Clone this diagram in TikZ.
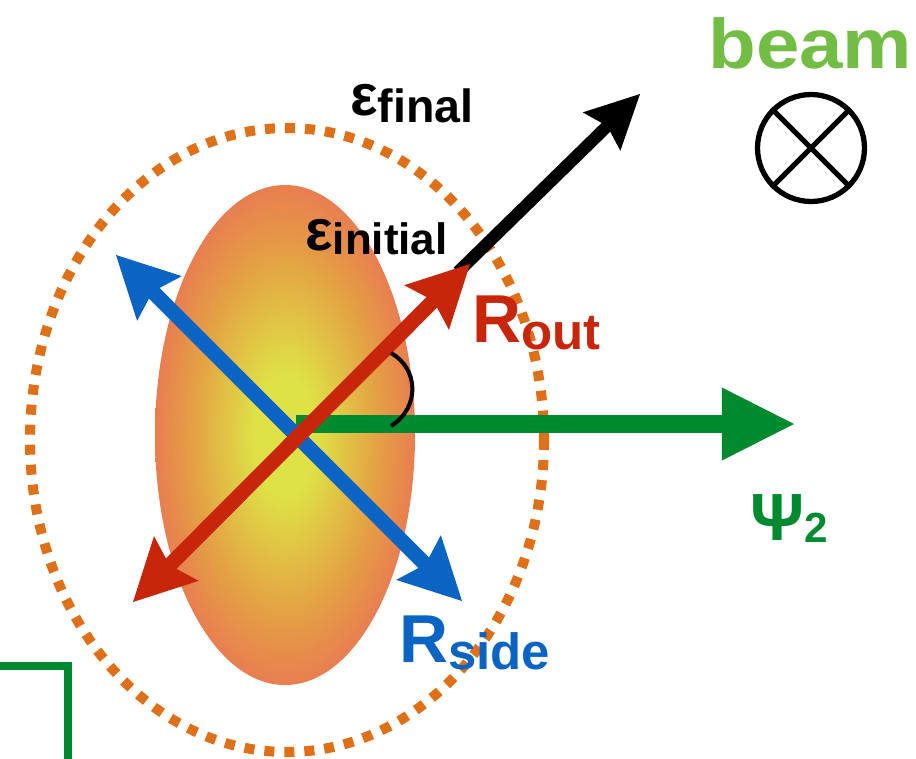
\documentclass[tikz,border=0pt]{standalone}
\usepackage{fontspec}
\setmainfont{Liberation Sans}
\usetikzlibrary{arrows.meta}
\definecolor{sideblue}{RGB}{10,100,195}
\definecolor{outred}{RGB}{200,38,10}
\definecolor{psigreen}{RGB}{0,138,48}
\definecolor{beamgreen}{RGB}{114,190,68}
\definecolor{dotorange}{RGB}{224,112,24}
\definecolor{eggin}{RGB}{222,226,70}
\definecolor{eggmid}{RGB}{228,160,68}
\definecolor{eggout}{RGB}{232,126,80}
\pgfdeclareradialshading{eggshade}{\pgfpoint{0bp}{0bp}}{color(0bp)=(eggin); color(6bp)=(eggin); color(18bp)=(eggmid); color(25bp)=(eggout); color(50bp)=(eggout)}
\begin{document}
\begin{tikzpicture}[x=0.02cm, y=-0.02cm, font=\bfseries,
    lbl/.style={anchor=base west, inner sep=0pt},
    dots/.style={dotorange, line width=5.7pt, dash pattern=on 5.7pt off 5.7pt},
    dbl/.style={line width=8.5pt, {Stealth[length=35pt, width=36pt, inset=5.5pt, line width=0pt]}-{Stealth[length=35pt, width=36pt, inset=5.5pt, line width=0pt]}},
    emit/.style={line width=7pt, -{Stealth[length=30.6pt, width=30.6pt, inset=4.5pt, line width=0pt]}},
    plane/.style={psigreen, line width=10.2pt, -{Triangle[length=41pt, width=41.5pt, line width=0pt]}}]
  \useasboundingbox (0,0) rectangle (916,758);
  % geometry
  \coordinate (ctr) at (297,433);
  \coordinate (egg) at (285,435);
  \coordinate (sidetop) at (116,255);
  \coordinate (sidebot) at (462,601);
  \coordinate (outbot) at (133,602);
  \coordinate (outtop) at (470,264);
  \coordinate (emitfrom) at (458,272);
  \coordinate (emitto) at (640,94);
  \coordinate (psifrom) at (296,424);
  \coordinate (psito) at (794,424);
  % source, initial and final shape
  \draw[dots] (287,440) ellipse (257 and 312);
  \shade[shading=eggshade] (egg) ellipse (130 and 250);
  % axes
  \draw[emit] (emitfrom) -- (emitto);
  \draw[plane] (psifrom) -- (psito);
  \draw[dbl, sideblue] (sidetop) -- (sidebot);
  \draw[dbl, outred] (outbot) -- (outtop);
  \draw[line width=2.3pt] (391,353) .. controls (418,368) and (421,407) .. (391,426);
  % labels
  \node[lbl] (efinal) at (350,115) {\fontsize{33}{33}\selectfont ε\fontsize{26.5}{26.5}\selectfont\raisebox{-4pt}{final}};
  \node[lbl] (einit) at (305,250) {\fontsize{33}{33}\selectfont ε\fontsize{25}{25}\selectfont\raisebox{-2.8pt}{initial}};
  \node[lbl, text=outred] (rout) at (472,342) {\fontsize{38.6}{38.6}\selectfont R\fontsize{29}{29}\selectfont\raisebox{-4.5pt}{out}};
  \node[lbl, text=sideblue] (rside) at (399,662) {\fontsize{38.6}{38.6}\selectfont R\fontsize{29}{29}\selectfont\raisebox{-4.5pt}{side}};
  \node[lbl, text=psigreen] (psi) at (750,540) {\fontsize{38}{38}\selectfont Ψ\fontsize{24}{24}\selectfont\raisebox{-1.7pt}{2}};
  % beam direction
  \node[lbl, text=beamgreen] (beam) at (708,68) {\fontsize{40}{40}\selectfont\scalebox{1.11}[1]{beam}};
  \node[circle, draw, line width=3pt, minimum size=2.14cm, inner sep=0pt] (beamsym) at (811,148) {};
  \draw[line width=3pt] (beamsym.north west) -- (beamsym.south east);
  \draw[line width=3pt] (beamsym.north east) -- (beamsym.south west);
  % frame corner
  \draw[psigreen, line width=4.5pt] (0,666) -- (68,666) -- (68,760);
\end{tikzpicture}
\end{document}
